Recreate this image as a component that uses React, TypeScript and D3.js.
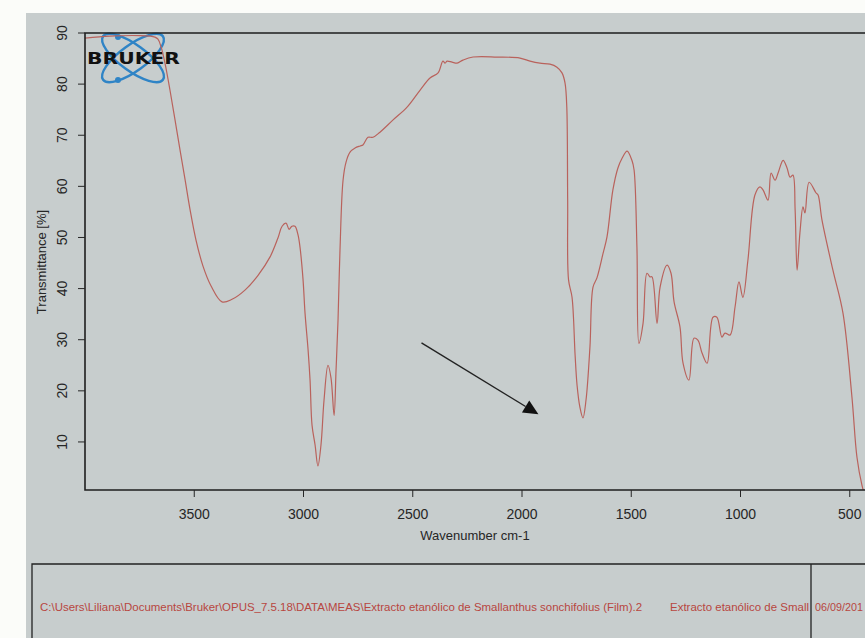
import React, { useEffect, useRef } from "react";
import * as d3 from "d3";

// spectrum (wavenumber cm-1 / transmittance %)
const wavenumbers = [
  4000, 3886, 3748, 3703, 3680, 3666, 3652, 3634, 3611, 3588, 3565, 3542, 3519, 3492, 3460,
  3423, 3373, 3327, 3268, 3208, 3153, 3117, 3098, 3080, 3066, 3053, 3039, 3025, 3016,
  3002, 2993, 2979, 2970, 2961, 2947, 2934, 2920, 2906, 2888, 2874, 2860, 2851, 2842, 2833,
  2819, 2805, 2787, 2764, 2741, 2728, 2705, 2682, 2650, 2590, 2526, 2467, 2421, 2384, 2362,
  2352, 2343, 2320, 2297, 2270, 2224, 2114, 2009, 1963, 1918, 1872, 1840, 1817, 1803, 1795,
  1791, 1787, 1771, 1757, 1748, 1735, 1721, 1707, 1689, 1675, 1657, 1629, 1611, 1584, 1561,
  1542, 1519, 1497, 1487, 1474, 1465, 1446, 1428, 1414, 1405, 1382, 1368, 1336, 1318, 1304,
  1277, 1263, 1236, 1213, 1195, 1176, 1153, 1126, 1108, 1085, 1071, 1048, 1025, 1007, 989,
  966, 934, 911, 897, 874, 860, 842, 828, 805, 787, 773, 760, 750, 741, 728,
  714, 705, 686, 654, 645, 627, 577, 531, 490, 467, 444, 420,
];
const transmittance = [
  89.0, 89.4, 89.5, 89.4, 89.2, 88.8, 87.3, 84.1, 78.8, 73.0, 67.1, 61.3, 55.4, 49.5, 44.4,
  40.5, 37.4, 37.9, 39.7, 42.6, 46.2, 49.9, 52.2, 52.8, 51.6, 52.2, 52.2, 50.5, 48.1,
  41.7, 35.2, 28.0, 22.1, 13.3, 9.4, 5.3, 9.4, 18.2, 25.0, 22.5, 15.2, 24.1, 33.8, 47.5,
  61.2, 64.8, 66.7, 67.5, 67.9, 68.1, 69.6, 69.6, 70.6, 73.0, 75.5, 78.8, 81.2, 82.2, 84.5,
  84.1, 84.5, 84.3, 84.1, 84.7, 85.3, 85.3, 85.1, 84.5, 84.1, 83.9, 83.3, 82.2, 80.2, 75.5,
  57.3, 41.7, 38.3, 27.0, 21.1, 16.8, 14.7, 18.2, 28.6, 40.3, 42.1, 46.9, 50.1, 59.3, 63.6,
  65.5, 66.9, 65.1, 63.2, 48.1, 29.3, 33.2, 43.0, 42.3, 42.3, 33.2, 40.3, 44.6, 43.0, 37.4,
  32.5, 25.4, 22.1, 30.3, 29.9, 27.4, 25.4, 34.4, 34.4, 30.5, 31.3, 30.9, 36.4, 41.3, 38.3,
  45.6, 58.3, 59.9, 59.3, 57.3, 62.6, 61.2, 62.6, 65.1, 63.6, 61.8, 62.2, 55.4, 43.6, 50.9,
  56.0, 54.8, 60.8, 58.7, 58.3, 53.4, 43.6, 35.2, 18.8, 7.0, 1.5, -2,
];
const yTicks = [10, 20, 30, 40, 50, 60, 70, 80, 90];
const xTicks = [3500, 3000, 2500, 2000, 1500, 1000, 500];
const filePath =
  "C:\\Users\\Liliana\\Documents\\Bruker\\OPUS_7.5.18\\DATA\\MEAS\\Extracto etanólico de Smallanthus sonchifolius (Film).2";
const sampleName = "Extracto etanólico de Small";
const dateText = "06/09/201";

export default function App() {
  const svgRef = useRef<SVGSVGElement>(null);

  useEffect(() => {
    const svg = d3.select(svgRef.current);
    svg.selectAll("*").remove();
    const W = 865,
      H = 638;
    const left = 85,
      top = 33,
      bottom = 490;
    const font = "'Liberation Sans', Arial, sans-serif";
    const ink = "#262626";

    const x = d3.scaleLinear().domain([4000, 400]).range([left, left + 3600 * 0.2185]);
    const y = d3.scaleLinear().domain([0.6, 90]).range([bottom, top]);

    // paper
    svg.append("rect").attr("width", W).attr("height", H).attr("fill", "#fbfcf9");
    svg.append("rect").attr("x", 26).attr("y", 13).attr("width", W).attr("height", H).attr("fill", "#c7cdcd");

    svg
      .append("defs")
      .append("clipPath")
      .attr("id", "plotclip")
      .append("rect")
      .attr("x", left)
      .attr("y", top)
      .attr("width", W - left + 10)
      .attr("height", bottom - top);

    // logo
    const logo = svg.append("g");
    [-36, 36].forEach((a) => {
      logo
        .append("ellipse")
        .attr("cx", 133)
        .attr("cy", 58)
        .attr("rx", 37)
        .attr("ry", 13)
        .attr("transform", `rotate(${a},133,58)`)
        .attr("fill", "none")
        .attr("stroke", "#2f84c6")
        .attr("stroke-width", 2.4);
    });
    [37, 80].forEach((cy) => {
      logo.append("circle").attr("cx", 118).attr("cy", cy).attr("r", 3).attr("fill", "#2f84c6");
    });
    logo
      .append("text")
      .attr("x", 87)
      .attr("y", 64)
      .attr("font-family", "'DejaVu Sans', sans-serif")
      .attr("font-weight", 900)
      .attr("font-size", 15)
      .attr("textLength", 93)
      .attr("lengthAdjust", "spacingAndGlyphs")
      .attr("fill", "#111")
      .text("BRUKER");

    // spectrum
    const pts = wavenumbers.map((w, i) => [w, transmittance[i]] as [number, number]);
    svg
      .append("path")
      .datum(pts)
      .attr("clip-path", "url(#plotclip)")
      .attr("fill", "none")
      .attr("stroke", "#b9625c")
      .attr("stroke-width", 1.2)
      .attr(
        "d",
        d3
          .line<[number, number]>()
          .x((d) => x(d[0]))
          .y((d) => y(d[1]))
          .curve(d3.curveCatmullRom.alpha(0.5))
      );

    // frame
    svg
      .append("path")
      .attr("d", `M${W + 5},${top}H${left}V${bottom}H${W + 5}`)
      .attr("fill", "none")
      .attr("stroke", "#1e1e1e")
      .attr("stroke-width", 1.6);

    // y axis
    const gy = svg.append("g");
    yTicks.forEach((t) => {
      gy.append("line").attr("x1", left - 7).attr("x2", left).attr("y1", y(t)).attr("y2", y(t)).attr("stroke", ink);
      gy.append("text")
        .attr("transform", `translate(67,${y(t)}) rotate(-90)`)
        .attr("text-anchor", "middle")
        .attr("font-family", font)
        .attr("font-size", 14)
        .attr("fill", ink)
        .text(t);
    });
    svg
      .append("text")
      .attr("transform", `translate(46,262) rotate(-90)`)
      .attr("text-anchor", "middle")
      .attr("font-family", font)
      .attr("font-size", 13)
      .attr("fill", ink)
      .text("Transmittance [%]");

    // x axis
    const gx = svg.append("g");
    xTicks.forEach((t) => {
      gx.append("line").attr("x1", x(t)).attr("x2", x(t)).attr("y1", bottom).attr("y2", bottom + 7).attr("stroke", ink);
      gx.append("text")
        .attr("x", x(t))
        .attr("y", 519)
        .attr("text-anchor", "middle")
        .attr("font-family", font)
        .attr("font-size", 14)
        .attr("fill", ink)
        .text(t);
    });
    svg
      .append("text")
      .attr("x", 475)
      .attr("y", 540)
      .attr("text-anchor", "middle")
      .attr("font-family", font)
      .attr("font-size", 13)
      .attr("fill", ink)
      .text("Wavenumber cm-1");

    // arrow annotation
    const ax0 = x(2460),
      ay0 = y(29.4),
      ax1 = x(1925),
      ay1 = y(15.4);
    const ang = Math.atan2(ay1 - ay0, ax1 - ax0);
    const hl = 15,
      hw = 7;
    const bx = ax1 - hl * Math.cos(ang),
      by = ay1 - hl * Math.sin(ang);
    svg
      .append("line")
      .attr("x1", ax0)
      .attr("y1", ay0)
      .attr("x2", bx)
      .attr("y2", by)
      .attr("stroke", "#222")
      .attr("stroke-width", 1.4);
    svg
      .append("polygon")
      .attr(
        "points",
        [
          [ax1, ay1],
          [bx - hw * Math.sin(ang), by + hw * Math.cos(ang)],
          [bx + hw * Math.sin(ang), by - hw * Math.cos(ang)],
        ]
          .map((p) => p.join(","))
          .join(" ")
      )
      .attr("fill", "#111");

    // footer box
    svg
      .append("path")
      .attr("d", `M${W + 5},564H32V${H + 5}M811,564V${H + 5}`)
      .attr("fill", "none")
      .attr("stroke", "#222")
      .attr("stroke-width", 1.3);
    const red = "#b8463f";
    const foot = (txt: string, x0: number, len: number) =>
      svg
        .append("text")
        .attr("x", x0)
        .attr("y", 611)
        .attr("font-family", font)
        .attr("font-size", 11)
        .attr("textLength", len)
        .attr("lengthAdjust", "spacingAndGlyphs")
        .attr("fill", red)
        .text(txt);
    foot(filePath, 40, 602);
    foot(sampleName, 670, 139);
    foot(dateText, 815, 48);
  }, []);

  return (
    <svg
      ref={svgRef}
      width={865}
      height={638}
      style={{ position: "absolute", left: 0, top: 0, display: "block" }}
    />
  );
}
